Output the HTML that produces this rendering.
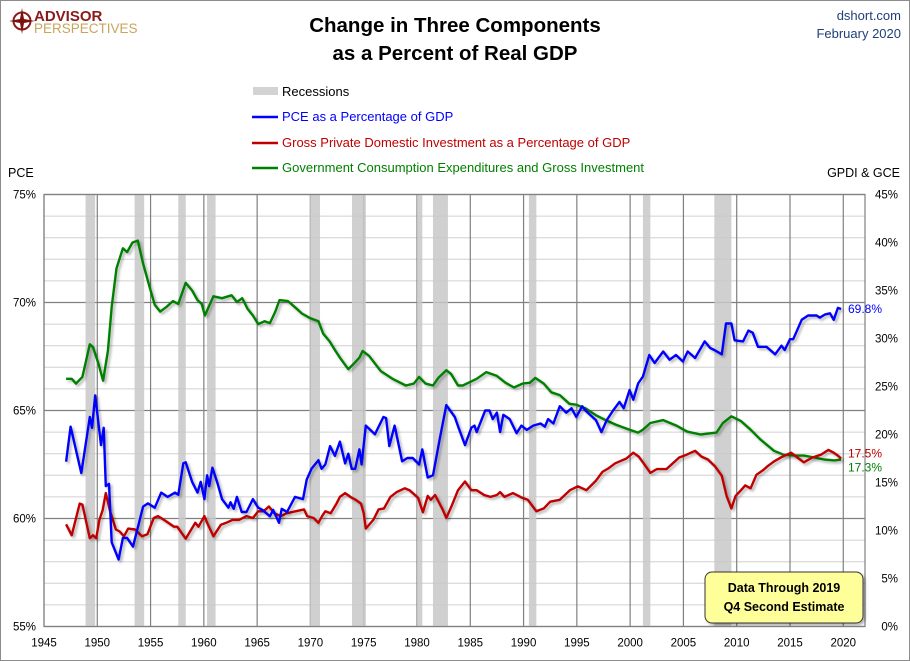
<!DOCTYPE html>
<html><head><meta charset="utf-8"><style>
body{margin:0;background:#fff;}
#wrap{position:relative;width:910px;height:661px;overflow:hidden;font-family:"Liberation Sans",sans-serif;}
svg text{font-family:"Liberation Sans",sans-serif;}
</style></head><body>
<div id="wrap">
<svg id="chart" width="910" height="661" xmlns="http://www.w3.org/2000/svg">
<defs><filter id="sh" x="-5%" y="-5%" width="110%" height="110%"><feDropShadow dx="2" dy="2" stdDeviation="1.2" flood-color="#000" flood-opacity="0.3"/></filter></defs>
<rect x="0.5" y="0.5" width="909" height="660" fill="#fff" stroke="#8c8c8c"/>
<g>
<circle cx="22" cy="21" r="8.5" fill="none" stroke="#8b1a1a" stroke-width="2"/>
<path d="M22 8 L24 19 L35 21 L24 23 L22 34 L20 23 L9 21 L20 19 Z" fill="#7a1010"/>
<text x="34" y="21" font-size="15" font-weight="bold" fill="#8b1a1a">ADVISOR</text>
<text x="34" y="33" font-size="13.5" fill="#c8a55a">PERSPECTIVES</text>
</g>
<text x="455" y="32" text-anchor="middle" font-size="20.5" font-weight="bold" fill="#000">Change in Three Components</text>
<text x="455" y="60" text-anchor="middle" font-size="20.5" font-weight="bold" fill="#000">as a Percent of Real GDP</text>
<text x="901" y="20" text-anchor="end" font-size="13" fill="#1f3f7a">dshort.com</text>
<text x="901" y="38" text-anchor="end" font-size="13" fill="#1f3f7a">February 2020</text>
<g font-weight="500">
<rect x="253" y="87" width="25" height="8" fill="#d3d3d3"/>
<text x="282" y="96" font-size="13" fill="#000">Recessions</text>
<line x1="252" y1="117" x2="278" y2="117" stroke="#0000ff" stroke-width="2.5"/>
<text x="282" y="121" font-size="13" fill="#0000ff">PCE as a Percentage of GDP</text>
<line x1="252" y1="143" x2="278" y2="143" stroke="#c00000" stroke-width="2.5"/>
<text x="282" y="147" font-size="13" fill="#c00000">Gross Private Domestic Investment as a Percentage of GDP</text>
<line x1="252" y1="168" x2="278" y2="168" stroke="#008000" stroke-width="2.5"/>
<text x="282" y="172" font-size="13" fill="#008000">Government Consumption Expenditures and Gross Investment</text>
</g>
<text x="8" y="177" font-size="12.5" fill="#000">PCE</text>
<text x="900" y="177" text-anchor="end" font-size="12.5" fill="#000">GPDI &amp; GCE</text>
<g id="grid"></g><g id="rec"></g><g id="axes"></g><g id="series"></g>
<g filter="url(#sh)">
<rect x="705" y="572" width="158" height="51" rx="7" fill="#ffff99" stroke="#333" stroke-width="1"/>
</g>
<text x="784" y="592" text-anchor="middle" font-size="12.5" font-weight="bold" fill="#000">Data Through 2019</text>
<text x="784" y="611" text-anchor="middle" font-size="12.5" font-weight="bold" fill="#000">Q4 Second Estimate</text>
</svg>
</div>
<script>
const xTickYears=[1945,1950,1955,1960,1965,1970,1975,1980,1985,1990,1995,2000,2005,2010,2015,2020];
const leftTicks=[55,60,65,70,75];
const rightTicks=[0,5,10,15,20,25,30,35,40,45];
const recessions=[[1948.9,1949.8],[1953.5,1954.4],[1957.6,1958.3],[1960.3,1961.1],[1969.9,1970.9],[1973.9,1975.2],[1980.0,1980.5],[1981.5,1982.9],[1990.5,1991.2],[2001.2,2001.9],[2007.9,2009.5]];
const pceYears=[1947.07,1947.5,1948.5,1949.3,1949.5,1949.8,1950.35,1950.6,1950.8,1951.1,1951.35,1952.0,1952.4,1952.8,1953.35,1954.3,1954.75,1955.4,1956.0,1956.6,1957.3,1957.6,1958.07,1958.3,1958.9,1959.4,1959.7,1960.05,1960.3,1960.5,1960.8,1961.3,1961.7,1962.3,1962.5,1962.8,1963.1,1963.55,1964.0,1964.6,1965.1,1965.5,1966.2,1966.5,1967.05,1967.3,1967.8,1968.55,1969.3,1969.65,1970.1,1970.75,1971.05,1971.4,1971.85,1972.3,1972.77,1973.25,1973.55,1973.87,1974.2,1974.6,1974.8,1975.2,1976.05,1976.85,1977.1,1977.4,1977.9,1978.6,1979.1,1979.6,1980.2,1980.5,1981.0,1981.5,1982.1,1982.75,1983.55,1983.9,1984.5,1985.1,1985.4,1985.6,1986.4,1986.8,1987.1,1987.5,1987.8,1988.1,1988.7,1989.35,1989.8,1990.3,1990.9,1991.6,1992.0,1992.3,1992.8,1993.4,1994.0,1994.5,1994.95,1995.5,1995.8,1996.8,1997.3,1997.8,1998.4,1999.0,1999.4,1999.95,2000.3,2000.75,2001.2,2001.8,2002.3,2003.1,2003.7,2004.3,2004.95,2005.4,2006.1,2007.0,2007.5,2007.9,2008.6,2009.0,2009.5,2009.8,2010.6,2011.1,2011.5,2012.0,2012.8,2013.6,2014.2,2014.5,2015.0,2015.3,2016.1,2016.7,2017.5,2017.8,2018.3,2018.75,2019.1,2019.5,2019.8];
const pceValues=[62.63,64.25,62.1,64.7,64.2,65.7,63.4,64.2,61.5,61.6,58.9,58.1,59.1,59.1,58.7,60.55,60.7,60.5,61.2,61.0,61.2,61.1,62.55,62.6,61.7,61.2,61.7,60.9,62.0,61.5,62.35,61.6,60.9,60.5,60.75,60.45,61.0,60.3,60.3,60.9,60.5,60.4,60.1,60.4,59.8,60.45,60.3,61.0,60.9,61.8,62.3,62.7,62.3,62.5,63.35,62.9,63.56,62.55,63.0,62.3,62.3,63.2,62.5,64.3,63.9,64.7,64.65,63.35,64.3,62.65,62.8,62.8,62.5,63.2,61.9,62.0,63.6,65.25,64.7,64.2,63.4,64.2,64.3,64.0,65.0,65.0,64.6,64.9,64.0,64.8,64.6,63.95,64.3,64.1,64.3,64.4,64.25,64.6,64.4,65.2,64.9,65.1,64.7,65.2,65.0,64.55,64.0,64.55,65.0,65.4,65.1,65.95,65.5,66.25,66.57,67.57,67.2,67.73,67.35,67.57,67.27,67.73,67.43,68.2,67.9,67.8,67.6,69.03,69.03,68.25,68.2,68.7,68.6,67.95,67.95,67.6,68.0,67.8,68.3,68.3,69.2,69.4,69.4,69.3,69.45,69.5,69.2,69.75,69.7];
const gpdiYears=[1947.07,1947.6,1948.35,1948.6,1949.3,1949.6,1949.9,1950.2,1950.5,1950.8,1951.2,1951.75,1952.1,1952.5,1952.9,1953.55,1954.2,1954.7,1955.3,1955.7,1956.4,1957.2,1957.5,1958.3,1959.2,1959.5,1960.05,1960.3,1960.9,1961.6,1962.1,1962.7,1963.3,1964.0,1964.6,1965.1,1965.6,1966.1,1966.6,1967.2,1967.8,1968.6,1969.4,1969.7,1970.3,1970.75,1971.1,1971.4,1971.9,1972.45,1972.77,1973.25,1973.75,1974.25,1974.75,1975.0,1975.2,1975.9,1976.4,1976.9,1977.5,1978.1,1978.85,1979.3,1980.1,1980.55,1981.0,1981.3,1981.7,1982.4,1982.75,1983.3,1983.85,1984.5,1985.1,1985.6,1986.3,1986.9,1987.5,1987.8,1988.2,1989.0,1989.9,1990.4,1991.2,1991.9,1992.5,1993.4,1994.35,1995.1,1995.9,1996.8,1997.4,1998.0,1998.6,1999.65,2000.3,2000.8,2001.2,2001.9,2002.5,2003.4,2003.9,2004.6,2005.3,2006.1,2006.7,2007.3,2007.95,2008.6,2009.05,2009.5,2009.9,2010.4,2010.8,2011.3,2011.85,2012.5,2012.9,2013.5,2014.3,2015.1,2015.7,2016.3,2017.1,2017.9,2018.6,2019.1,2019.5,2019.8];
const gpdiValues=[10.65,9.5,12.8,12.7,9.2,9.5,9.2,11.1,12.1,13.9,12.0,10.1,9.9,9.4,10.2,10.1,9.4,9.6,11.3,11.5,11.0,10.4,10.4,9.15,10.8,10.4,11.5,10.8,9.4,10.6,10.8,11.1,11.1,11.5,11.3,12.0,12.0,12.5,11.8,11.5,11.8,12.0,12.2,11.5,11.3,10.8,11.5,12.0,11.8,12.8,13.5,13.9,13.5,13.2,12.8,11.8,10.2,11.1,12.2,12.3,13.5,14.0,14.4,14.2,13.4,11.9,13.6,13.2,13.7,12.2,11.3,12.7,14.2,15.1,14.2,14.2,13.7,13.5,13.7,14.0,13.5,13.9,13.4,13.2,12.0,12.3,13.0,13.2,14.2,14.6,14.2,15.2,16.1,16.5,17.0,17.5,18.1,17.7,17.1,16.0,16.4,16.4,16.9,17.6,17.9,18.3,17.7,17.4,16.7,15.7,13.6,12.3,13.6,14.2,14.7,14.4,15.8,16.3,16.7,17.2,17.7,18.1,17.6,17.1,17.6,17.9,18.4,18.1,17.8,17.5];
const gceYears=[1947.07,1947.6,1948.0,1948.6,1949.3,1949.6,1950.1,1950.55,1951.0,1951.35,1951.8,1952.4,1952.8,1953.3,1953.8,1954.3,1954.9,1955.4,1955.9,1956.5,1957.1,1957.6,1958.3,1958.9,1959.4,1959.8,1960.1,1960.9,1961.7,1962.6,1963.1,1963.6,1964.1,1964.6,1965.1,1965.7,1966.2,1966.7,1967.1,1967.9,1968.7,1969.2,1970.0,1970.75,1971.2,1971.8,1972.3,1972.77,1973.55,1974.0,1974.6,1974.9,1975.5,1976.6,1977.7,1978.95,1979.7,1980.2,1980.8,1981.5,1982.0,1982.75,1983.2,1983.85,1984.3,1985.6,1986.5,1987.5,1988.3,1989.1,1989.9,1990.6,1991.1,1991.9,1992.6,1993.4,1994.3,1994.95,1995.85,1996.8,1997.7,1998.7,1999.95,2000.75,2001.2,2001.9,2003.1,2004.4,2005.35,2006.6,2008.1,2008.7,2009.5,2010.4,2011.3,2012.2,2013.5,2014.4,2015.4,2016.3,2017.3,2018.2,2019.2,2019.8];
const gceValues=[25.8,25.8,25.3,26.0,29.4,29.1,27.4,25.6,28.7,33.3,37.3,39.4,39.0,40.0,40.2,37.8,35.4,33.5,32.8,33.3,33.9,33.6,35.8,35.0,34.0,33.6,32.4,34.4,34.2,34.5,33.8,34.2,33.1,32.4,31.5,31.8,31.6,32.8,34.0,33.9,33.1,32.6,32.1,31.8,30.5,29.7,28.8,28.0,26.8,27.3,28.0,28.7,28.2,26.6,25.8,25.1,25.3,26.0,25.3,25.1,25.9,26.7,26.3,25.1,25.1,25.8,26.5,26.1,25.4,24.9,25.3,25.4,25.9,25.3,24.4,24.1,23.2,23.1,22.7,22.0,21.5,21.0,20.5,20.2,20.5,21.2,21.5,20.9,20.3,20.0,20.2,21.2,21.9,21.4,20.5,19.5,18.3,17.9,17.8,17.8,17.6,17.4,17.3,17.4];
const endLabels=["69.8%","17.5%","17.3%"];

const NS="http://www.w3.org/2000/svg";
const L=44,R=865,T=194.5,B=626.5;
function x(yr){return L+(yr-1945)*10.657;}
function yL(v){return T+(75-v)*21.6;}
function yR(v){return B-v*9.6;}
function mk(tag,attrs,parent){const e=document.createElementNS(NS,tag);for(const k in attrs)e.setAttribute(k,attrs[k]);parent.appendChild(e);return e;}
const grid=document.getElementById('grid'),rec=document.getElementById('rec'),axes=document.getElementById('axes'),ser=document.getElementById('series');
for(let v=55;v<=75;v++){
  const ln=mk('line',{x1:L,x2:R,y1:yL(v),y2:yL(v),stroke:v%5===0?'#808080':'#d0d0d0','stroke-width':v%5===0?1.3:1},grid);
  
  
}
xTickYears.forEach(yr=>{
  const ln=mk('line',{x1:x(yr),x2:x(yr),y1:T,y2:B,stroke:'#808080','stroke-width':1.2},grid);
  
  
  const t=mk('text',{x:x(yr),y:B+20,'text-anchor':'middle','font-size':11.5,fill:'#000'},axes);
  t.textContent=yr;
  
  
});
recessions.forEach(r=>{
  const b=mk('rect',{x:x(r[0]),y:T,width:x(r[1])-x(r[0]),height:B-T,fill:'#c8c8c8','fill-opacity':0.85},rec);
  
  
});
const frame=mk('rect',{x:L,y:T,width:R-L,height:B-T,fill:'none',stroke:'#808080','stroke-width':1.2},axes);


leftTicks.forEach(v=>{
  const t=mk('text',{x:36,y:yL(v)+4,'text-anchor':'end','font-size':11.5,fill:'#000'},axes);
  t.textContent=v+'%';
  
  
});
rightTicks.forEach(v=>{
  const t=mk('text',{x:898,y:yR(v)+4,'text-anchor':'end','font-size':11.5,fill:'#000'},axes);
  t.textContent=v+'%';
  
  
});
function line(xs,vs,fy,color,name){
  const d=xs.map((yr,i)=>(i?'L':'M')+x(yr).toFixed(1)+' '+fy(vs[i]).toFixed(1)).join(' ');
  const p=mk('path',{d:d,fill:'none',stroke:color,'stroke-width':2.4,'stroke-linejoin':'round',filter:'url(#sh)'},ser);
  
  
}
line(gceYears,gceValues,yR,'#008000','gce-line');
line(gpdiYears,gpdiValues,yR,'#c00000','gpdi-line');
line(pceYears,pceValues,yL,'#0000ff','pce-line');
const lab=[[endLabels[0],yL(pceValues[pceValues.length-1])+4,'#0000ff','pce-end-label'],[endLabels[1],yR(gpdiValues[gpdiValues.length-1])-1,'#c00000','gpdi-end-label'],[endLabels[2],yR(gceValues[gceValues.length-1])+12,'#008000','gce-end-label']];
lab.forEach(a=>{
  const t=mk('text',{x:848,y:a[1],'font-size':12,fill:a[2]},axes);
  t.textContent=a[0];
  
  
});
</script>
</body></html>
